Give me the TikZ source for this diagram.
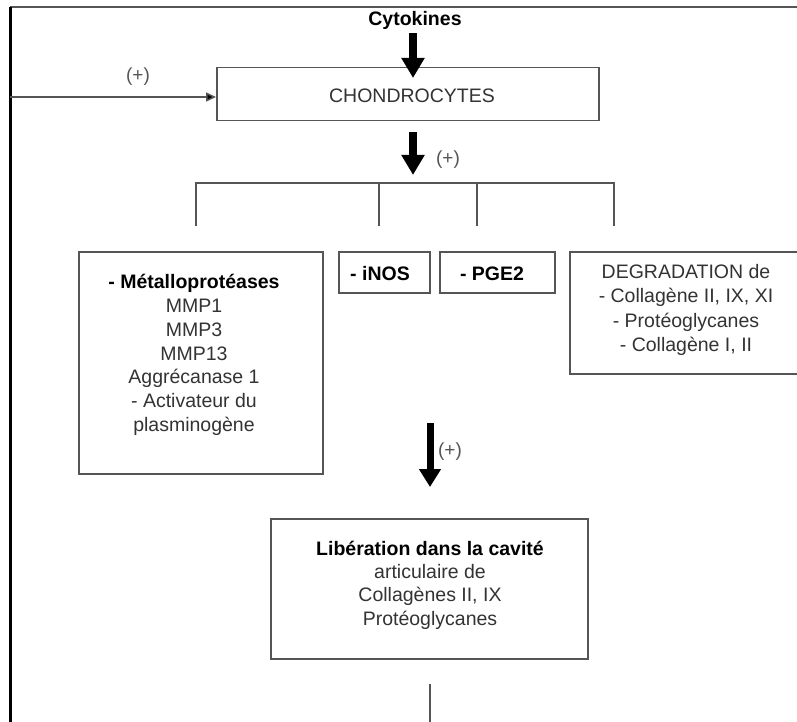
\documentclass[tikz,border=0pt]{standalone}
\usepackage{fontspec}
\setmainfont{Liberation Sans}
\usetikzlibrary{arrows.meta,calc}
\definecolor{boxgray}{HTML}{555555}
\definecolor{txtgray}{HTML}{333333}
\begin{document}
\begin{tikzpicture}[x=1pt,y=-1pt,
  box/.style={draw=boxgray, line width=1.5pt, inner sep=0pt, anchor=north west},
  txt/.style={inner sep=0pt, align=center, text=txtgray, font=\fontsize{19.5}{24}\selectfont},
  btxt/.style={txt, text=black, font=\fontsize{19.5}{24}\selectfont\bfseries},
  bigarrow/.style={line width=8pt, black, -{Triangle[length=20pt,width=22pt]}},
  fbarrow/.style={line width=1.5pt, boxgray, -{Triangle[length=10pt,width=9pt,fill=black]}},
  thinline/.style={line width=1.5pt, boxgray},
  plus/.style={inner sep=0pt, text=boxgray, font=\fontsize{19}{22}\selectfont}
]
\clip (0,0) rectangle (797,722);
\fill[white] (0,0) rectangle (797,722);

% frame lines
\coordinate (tl) at (10,7);
\coordinate (tr) at (797,7);
\coordinate (bl) at (10,722);
\draw[thinline] (tl) -- (tr);
\draw[line width=3pt, black] (tl) -- (bl);

% Cytokines
\node[btxt] (cyto) at (415,20) {Cytokines};

% CHONDROCYTES
\node[box, minimum width=382pt, minimum height=53pt] (chondro) at (216,67) {};
\node[txt] (chondroT) at (412,96) {CHONDROCYTES};

\coordinate (tip1) at (413,78);
\draw[bigarrow] (cyto.south -| tip1) ++(0,4) -- (tip1);

% feedback
\coordinate (fbL) at (10,97);
\draw[fbarrow] (fbL) -- (fbL -| chondro.west);
\node[plus] (plus1) at (138,77) {(+)};

% arrow 2
\coordinate (a2s) at (413,132);
\coordinate (a2e) at (413,175);
\draw[bigarrow] (a2s) -- (a2e);
\node[plus] (plus2) at (448,160) {(+)};

% bracket
\coordinate (b1) at (196,183);
\coordinate (b2) at (379,183);
\coordinate (b3) at (477,183);
\coordinate (b4) at (614,183);
\draw[thinline] ($(b1)+(0,43)$) -- (b1) -- (b4) -- ($(b4)+(0,43)$);
\draw[thinline] (b2) -- ($(b2)+(0,43)$);
\draw[thinline] (b3) -- ($(b3)+(0,43)$);

% Metalloproteases
\node[box, minimum width=244pt, minimum height=222pt] (metallo) at (78,251) {};
\node[txt, font=\fontsize{19.5}{23.8}\selectfont] (metalloT) at (194,355)
  {\textbf{\color{black}- Métalloprotéases}\\MMP1\\MMP3\\MMP13\\Aggrécanase 1\\- Activateur du\\plasminogène};

% iNOS
\node[box, minimum width=91pt, minimum height=41pt] (inos) at (338,251) {};
\node[btxt] (inosT) at (380,274) {- iNOS};

% PGE2
\node[box, minimum width=115pt, minimum height=41pt] (pge) at (439,251) {};
\node[btxt] (pgeT) at (492,274) {- PGE2};

% DEGRADATION
\node[box, minimum width=240pt, minimum height=122pt] (degr) at (569,251) {};
\node[txt, font=\fontsize{19.5}{24.3}\selectfont] (degrT) at (686,310)
  {DEGRADATION de\\- Collagène II, IX, XI\\- Protéoglycanes\\- Collagène I, II};

% arrow 3
\coordinate (a3s) at (430,423);
\coordinate (a3e) at (430,487);
\draw[line width=7pt, black, -{Triangle[length=18pt,width=21pt]}] (a3s) -- (a3e);
\node[plus] (plus3) at (450,452) {(+)};

% Liberation
\node[box, minimum width=317pt, minimum height=140pt] (lib) at (270,518) {};
\node[txt, font=\fontsize{19.5}{23.3}\selectfont] (libT) at (430,585)
  {\textbf{\color{black}Libération dans la cavité}\\articulaire de\\Collagènes II, IX\\Protéoglycanes};

% stub
\coordinate (stubEnd) at (430,722);
\draw[thinline] ($(lib.south -| stubEnd)+(0,24)$) -- (stubEnd);
\end{tikzpicture}
\end{document}
